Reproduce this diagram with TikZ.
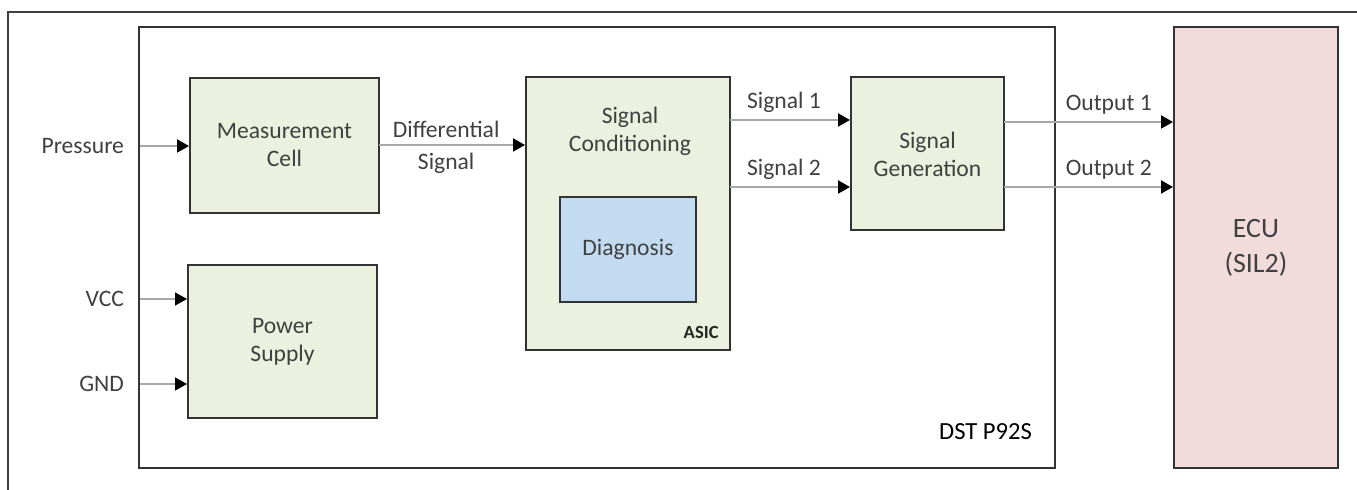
\documentclass[tikz,border=0pt]{standalone}
\usepackage{fontspec}
\setmainfont{Carlito}
\usetikzlibrary{positioning,arrows.meta}
\definecolor{blockgreen}{HTML}{EBF1DE}
\definecolor{diagblue}{HTML}{C3DBF1}
\definecolor{ecupink}{HTML}{F2DCDB}
\definecolor{textgray}{HTML}{404040}
\definecolor{wiregray}{HTML}{A8A8A8}
\tikzset{
        blocktext/.style={text=textgray, font=\fontsize{11.8}{14}\selectfont},
        % Function blocks
        block/.style={blocktext, rectangle, align=center, inner sep=0pt, draw=black!80, line width=1pt, fill=blockgreen},
        % Diagnosis block
        block_diag/.style={block, fill=diagblue},
        % ECU block
        block_ecu/.style={block, fill=ecupink, font=\fontsize{14}{17.5}\selectfont},
        % Signal labels
        sig_label/.style={blocktext},
        % Connectors
        wire/.style={draw=wiregray, line width=1pt, -{Triangle[length=6pt,width=6.5pt,black]}}
}
\begin{document}
\begin{tikzpicture}[x=0.5pt, y=-0.5pt]
    \useasboundingbox (0,0) rectangle (1357,490);
    % outer frame
    \draw[black!75, line width=0.6pt] (8,490) -- (8,12) -- (1357,12);
    % sensor
    \node[draw=black!80, line width=1pt, minimum width=458pt, minimum height=220.5pt] (dst) at (597,247.5) {};
    \node[anchor=east, font=\fontsize{12.3}{14}\selectfont] (dstname) at (1039,432) {DST P92S};
    \node[block, minimum width=94.5pt, minimum height=67.5pt] (meas) at (284.5,145.5) {Measurement\\Cell};
    \node[block, minimum width=94.5pt, minimum height=76.5pt] (power) at (282.5,341.5) {Power\\Supply};
    \node[block, minimum width=102pt, minimum height=136.5pt] (cond) at (628,213.5) {};
    \node[blocktext, align=center] (condtxt) at (630,131) {Signal\\Conditioning};
    \node[block_diag, minimum width=68pt, minimum height=52.5pt] (diag) at (628,249.5) {Diagnosis};
    \node[anchor=south east, font=\fontsize{9.3}{11}\bfseries\selectfont, text=black!85, inner sep=0pt] (asic) at (719,339) {ASIC};
    \node[block, minimum width=76.5pt, minimum height=76.5pt] (gen) at (927.5,154) {Signal\\Generation};
    \node[block_ecu, minimum width=82pt, minimum height=220.5pt] (ecu) at (1256,247.5) {ECU\\(SIL2)};
    % inputs
    \coordinate (pin) at (140,146);
    \coordinate (vin) at (140,299);
    \coordinate (gin) at (140,384);
    \node[sig_label, anchor=east] (plabel) at (131,146) {Pressure};
    \node[sig_label, anchor=east] (vlabel) at (131,299) {VCC};
    \node[sig_label, anchor=east] (glabel) at (131,384) {GND};
    \draw[wire] (pin) -- (pin -| meas.west);
    \draw[wire, line width=0.7pt] (vin) -- (vin -| power.west);
    \draw[wire, line width=0.7pt] (gin) -- (gin -| power.west);
    % signal path
    \coordinate (dif) at (379,145);
    \coordinate (s1) at (730,120);
    \coordinate (s2) at (730,187);
    \coordinate (o1) at (1004,122);
    \coordinate (o2) at (1004,187);
    \draw[wire] (dif) -- node[sig_label, above, pos=0.46] {Differential} node[sig_label, below, pos=0.46] {Signal} (dif -| cond.west);
    \draw[wire] (s1) -- node[sig_label, above, pos=0.45] {Signal 1} (s1 -| gen.west);
    \draw[wire] (s2) -- node[sig_label, above, pos=0.45] {Signal 2} (s2 -| gen.west);
    \draw[wire] (o1) -- node[sig_label, above, pos=0.62] {Output 1} (o1 -| ecu.west);
    \draw[wire] (o2) -- node[sig_label, above, pos=0.62] {Output 2} (o2 -| ecu.west);
\end{tikzpicture}
\end{document}
